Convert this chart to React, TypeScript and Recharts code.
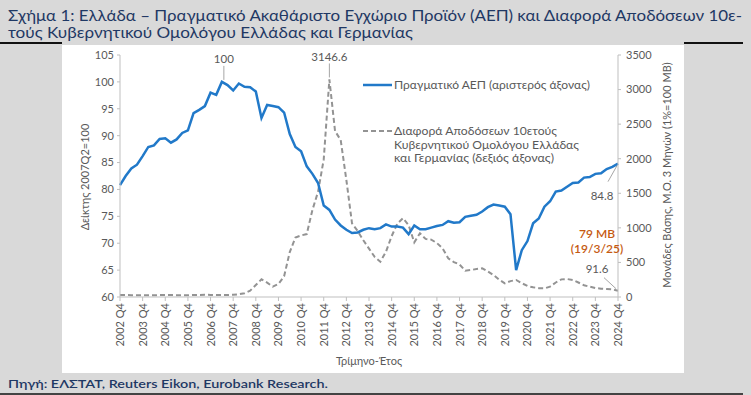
import { LineChart, Line, XAxis, YAxis } from "recharts"

// categories: 2002 Q4 ... 2024 Q4
const quarters: string[] = (() => {
  const out = ["2002 Q4"]
  for (let y = 2003; y <= 2024; y++) for (let q = 1; q <= 4; q++) out.push(`${y} Q${q}`)
  return out
})()

// Πραγματικό ΑΕΠ, δείκτης 2007Q2=100
const gdp = [
  80.8, 82.5, 83.9, 84.6, 86.2, 87.9, 88.2, 89.4, 89.5, 88.7, 89.3, 90.5, 91.0,
  94.2, 94.8, 95.5, 98.0, 97.6, 100.0, 99.4, 98.4, 99.7, 99.1, 99.0, 98.2, 93.3,
  95.7, 95.5, 95.3, 94.3, 90.3, 87.9, 87.1, 84.3, 82.9, 81.2, 77.0, 76.2, 74.4,
  73.3, 72.5, 71.9, 72.0, 72.5, 72.8, 72.6, 72.8, 73.5, 73.1, 73.1, 72.9, 71.7,
  73.3, 72.6, 72.6, 72.9, 73.2, 73.4, 74.1, 73.8, 73.9, 74.9, 75.1, 75.3, 75.9,
  76.7, 77.2, 77.0, 76.8, 75.4, 65.0, 68.7, 70.4, 73.7, 74.6, 76.8, 77.8, 79.6,
  79.8, 80.5, 81.2, 81.3, 82.2, 82.3, 82.9, 83.0, 83.8, 84.2, 84.8,
]

// Διαφορά αποδόσεων 10ετούς ομολόγου Ελλάδας-Γερμανίας (μ.β.)
const spread = [
  30, 28, 27, 26, 25, 25, 26, 28, 30, 28, 27, 26, 25, 28, 30, 32, 30, 28, 29,
  30, 32, 40, 55, 92, 173, 255, 207, 149, 188, 300, 650, 860, 890, 910, 1258,
  1523, 1990, 3146.6, 2400, 2270, 1692, 1065, 954, 820, 700, 580, 511, 655, 880,
  1060, 1140, 1040, 790, 921, 840, 830, 780, 704, 560, 505, 470, 381, 390, 405,
  415, 370, 318, 250, 198, 230, 246, 200, 159, 140, 128, 125, 150, 210, 255, 260,
  246, 210, 170, 149, 130, 120, 115, 110, 91.6,
]

const leftTicks = [60, 65, 70, 75, 80, 85, 90, 95, 100, 105]
const rightTicks = [0, 500, 1000, 1500, 2000, 2500, 3000, 3500]

const data = quarters.map((q, i) => ({ q, gdp: gdp[i], spread: spread[i] }))

const FONT = "Lato, 'Noto Sans', sans-serif"
const TXT = "#595959"
const NAVY = "#1f3864"
const BLUE = "#2179c9"
const GREY = "#939393"

const XTick = ({ x, y, payload }: any) => (
  <g transform={`translate(${x},${y})`}>
    <text transform="rotate(-90)" x={0} y={4} textAnchor="end" fontSize={11} fill={TXT} fontFamily={FONT}>
      {payload.value}
    </text>
  </g>
)

const gdpLabel = (p: any) => {
  const { x, y, index } = p
  if (index === 18)
    return (
      <g key="l100">
        <line x1={x + 2} y1={y - 2} x2={x + 2} y2={y - 16} stroke="#a6a6a6" />
        <text x={x + 2} y={y - 19} textAnchor="middle" fontSize={11.5} fill={TXT} fontFamily={FONT}>100</text>
      </g>
    )
  if (index === 88)
    return (
      <g key="l848">
        <line x1={x - 1} y1={y + 2} x2={x - 10} y2={y + 18} stroke="#a6a6a6" />
        <text x={x - 16} y={y + 36} textAnchor="middle" fontSize={11.5} fill={TXT} fontFamily={FONT}>84.8</text>
      </g>
    )
  return <g key={`g${index}`} />
}

const spreadLabel = (p: any) => {
  const { x, y, index } = p
  if (index === 37)
    return (
      <g key="l3146">
        <line x1={x} y1={y - 2} x2={x} y2={y - 16} stroke="#a6a6a6" />
        <text x={x} y={y - 18} textAnchor="middle" fontSize={11.5} fill={TXT} fontFamily={FONT}>3146.6</text>
      </g>
    )
  if (index === 88)
    return (
      <g key="l916">
        <line x1={x - 2} y1={y - 2} x2={x - 14} y2={y - 13} stroke="#a6a6a6" />
        <text x={x - 21} y={y - 18} textAnchor="middle" fontSize={11.5} fill={TXT} fontFamily={FONT}>91.6</text>
      </g>
    )
  return <g key={`s${index}`} />
}

export default function App() {
  return (
    <div style={{ position: "absolute", left: 0, top: 0, width: 751, height: 395, background: "#d9d9d9", fontFamily: FONT }}>
      <svg width={751} height={395} style={{ position: "absolute", left: 0, top: 0 }}>
        <rect x={62} y={45} width={622} height={328} fill="#ffffff" />
        <line x1={0} y1={43} x2={62} y2={43} stroke="#111" strokeWidth={2} />
        <line x1={684} y1={43} x2={743} y2={43} stroke="#111" strokeWidth={2} />
        <line x1={0} y1={394} x2={743} y2={394} stroke="#111" strokeWidth={1.5} />
        <text x={8} y={21} fontSize={15} fill={NAVY} textLength={734} lengthAdjust="spacingAndGlyphs">
          Σχήμα 1: Ελλάδα – Πραγματικό Ακαθάριστο Εγχώριο Προϊόν (ΑΕΠ) και Διαφορά Αποδόσεων 10ε-
        </text>
        <text x={8} y={38} fontSize={15} fill={NAVY} textLength={405} lengthAdjust="spacingAndGlyphs">
          τούς Κυβερνητικού Ομολόγου Ελλάδας και Γερμανίας
        </text>
        <text x={8} y={388} fontSize={12} fontWeight={600} fill={NAVY} textLength={320} lengthAdjust="spacingAndGlyphs">
          Πηγή: ΕΛΣΤΑΤ, Reuters Eikon, Eurobank Research.
        </text>
      </svg>
      <div style={{ position: "absolute", left: 0, top: 0 }}>
        <LineChart width={751} height={395} data={data} margin={{ top: 55, right: 73, bottom: 48, left: 60 }}>
          <XAxis
            dataKey="q"
            interval={3}
            tick={<XTick />}
            tickSize={4}
            height={50}
            stroke="#bfbfbf"
          />
          <YAxis
            yAxisId="left"
            domain={[60, 105]}
            ticks={leftTicks}
            width={60}
            tickSize={3}
            tickMargin={3}
            stroke="#bfbfbf"
            tick={{ fontSize: 11, fill: TXT, fontFamily: FONT }}
          />
          <YAxis
            yAxisId="right"
            orientation="right"
            domain={[0, 3500]}
            ticks={rightTicks}
            width={60}
            tickSize={3}
            tickMargin={5}
            stroke="#bfbfbf"
            tick={{ fontSize: 11, fill: TXT, fontFamily: FONT, textAnchor: "start" }}
          />
          <Line
            yAxisId="right"
            dataKey="spread"
            stroke={GREY}
            strokeWidth={2}
            strokeDasharray="5 3"
            dot={false}
            isAnimationActive={false}
            label={spreadLabel}
          />
          <Line
            yAxisId="left"
            dataKey="gdp"
            stroke={BLUE}
            strokeWidth={2.5}
            dot={false}
            isAnimationActive={false}
            label={gdpLabel}
          />
        </LineChart>
      </div>
      <svg width={751} height={395} style={{ position: "absolute", left: 0, top: 0, pointerEvents: "none" }} fontFamily={FONT}>
        <text transform="translate(89,177) rotate(-90)" textAnchor="middle" fontSize={11} fill={TXT}>Δείκτης 2007Q2=100</text>
        <text transform="translate(671,175) rotate(-90)" textAnchor="middle" fontSize={11} fill={TXT}>Μονάδες Βάσης, Μ.Ο. 3 Μηνών (1%=100 ΜΒ)</text>
        <text x={369} y={365} textAnchor="middle" fontSize={11} fill={TXT}>Τρίμηνο-Έτος</text>
        <line x1={363} y1={85} x2={392} y2={85} stroke={BLUE} strokeWidth={2.5} />
        <text x={394} y={89} fontSize={11.5} fill={TXT} textLength={196} lengthAdjust="spacingAndGlyphs">Πραγματικό ΑΕΠ (αριστερός άξονας)</text>
        <line x1={363} y1={131} x2={392} y2={131} stroke={GREY} strokeWidth={2} strokeDasharray="5 3" />
        <text x={394} y={135} fontSize={11.5} fill={TXT} textLength={163} lengthAdjust="spacingAndGlyphs">Διαφορά Αποδόσεων 10ετούς</text>
        <text x={394} y={149} fontSize={11.5} fill={TXT} textLength={185} lengthAdjust="spacingAndGlyphs">Κυβερνητικού Ομολόγου Ελλάδας</text>
        <text x={394} y={162} fontSize={11.5} fill={TXT} textLength={160} lengthAdjust="spacingAndGlyphs">και Γερμανίας (δεξιός άξονας)</text>
        <text x={597} y={238} textAnchor="middle" fontSize={12} fontWeight={600} fill="#c55a11">79 MB</text>
        <text x={597} y={253} textAnchor="middle" fontSize={12} fontWeight={600} fill="#c55a11">(19/3/25)</text>
      </svg>
    </div>
  )
}
